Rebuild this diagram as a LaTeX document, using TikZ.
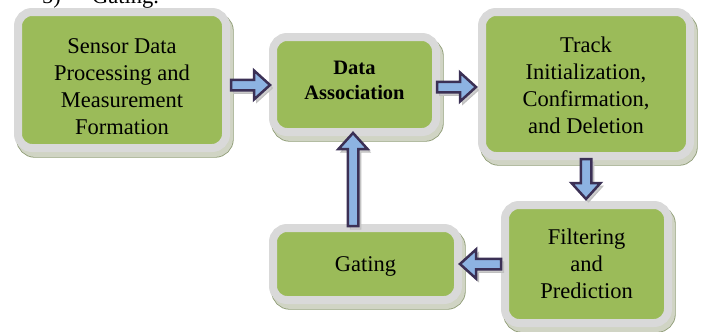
\documentclass[tikz,border=0pt]{standalone}
\usepackage{fontspec}
\setmainfont{Liberation Serif}
\usetikzlibrary{calc}

\definecolor{boxgreen}{HTML}{9BBB59}
\definecolor{boxrim}{HTML}{D9D9D9}
\definecolor{shadefill}{RGB}{208,212,196}
\definecolor{shadeedge}{RGB}{138,152,112}
\definecolor{arrowedge}{HTML}{3B3055}
\definecolor{arrowfill}{HTML}{8DB3E2}
\definecolor{arrowshade}{RGB}{205,205,205}

\tikzset{
  stage/.style={
    rectangle, rounded corners=14pt, inner sep=0pt,
    fill=boxgreen, draw=boxrim, line width=8pt,
    preaction={draw=shadeedge, line width=9.4pt,
      transform canvas={xshift=3pt,yshift=-5pt}},
    preaction={draw=shadefill, fill=shadefill, line width=7.8pt,
      transform canvas={xshift=3pt,yshift=-5pt}}
  },
  stagetext/.style={align=center, inner sep=0pt, font=\fontsize{22.5}{27}\selectfont},
  arrowbody/.style={draw=arrowedge, fill=arrowfill, line width=2.5pt, line join=miter},
  arrowshadow/.style={draw=gray!50, fill=arrowshade, line width=1pt, line join=miter}
}

% block arrow outline from #1 to tip #2, shifted by #3, drawn with style #4
\newcommand\arrowpath[4]{%
  \path[#4]
    ($(#1)!5.25pt!90:(#2)+(#3)$) -- ($(ba-b)!5.25pt!90:(#2)+(#3)$) --
    ($(ba-b)!14.5pt!90:(#2)+(#3)$) -- ($(#2)+(#3)$) --
    ($(ba-b)!14.5pt!-90:(#2)+(#3)$) -- ($(ba-b)!5.25pt!-90:(#2)+(#3)$) --
    ($(#1)!5.25pt!-90:(#2)+(#3)$) -- cycle;}
\newcommand\blockarrow[2]{%
  \coordinate (ba-b) at ($(#2)!16pt!(#1)$);
  \arrowpath{#1}{#2}{2.5pt,-3pt}{arrowshadow}
  \arrowpath{#1}{#2}{0pt,0pt}{arrowbody}}

\begin{document}
\begin{tikzpicture}[x=1pt,y=-1pt]
\useasboundingbox (0,0) rectangle (702,332);
\clip (0,0) rectangle (702,332);

% heading line above the chart
\node[anchor=base west, inner sep=0pt, font=\fontsize{22.5}{27}\selectfont] (hnum) at (42,3) {5)};
\node[anchor=base west, inner sep=0pt, font=\fontsize{22.5}{27}\selectfont] (htxt) at (92,3) {Gating.};

% processing stages
\node[stage, minimum width=208pt, minimum height=136pt] (sensor) at (122,80) {};
\node[stage, minimum width=163pt, minimum height=95pt] (assoc) at (354.5,84.5) {};
\node[stage, minimum width=208pt, minimum height=144pt] (track) at (586,84) {};
\node[stage, minimum width=185pt, minimum height=72pt] (gating) at (365.5,264) {};
\node[stage, minimum width=163pt, minimum height=118pt] (filt) at (586.5,264) {};

% stage labels
\node[stagetext] (sensor-t) at ($(sensor)+(0,7)$)
  {Sensor Data\\Processing and\\Measurement\\Formation};
\node[stagetext, font=\fontsize{20.5}{25}\selectfont\bfseries] (assoc-t) at ($(assoc)+(0,-4)$)
  {Data\\Association};
\node[stagetext] (track-t) at ($(track)+(0,1)$)
  {Track\\Initialization,\\Confirmation,\\and Deletion};
\node[stagetext] (gating-t) at ($(gating)+(0,2)$) {Gating};
\node[stagetext] (filt-t) at ($(filt)+(0,0)$) {Filtering\\and\\Prediction};

% arrow end points
\coordinate (a1s) at ($(sensor.east)+(1,5)$);
\coordinate (a1t) at ($(assoc.west)+(1,0.5)$);
\coordinate (a2s) at ($(assoc.east)+(-3,2.5)$);
\coordinate (a2t) at ($(track.west)+(-2,3)$);
\coordinate (a3s) at ($(track.south)+(0,-1)$);
\coordinate (a3t) at ($(filt.north)+(-0.5,-2)$);
\coordinate (a4s) at ($(gating.north)+(-12.5,2)$);
\coordinate (a4t) at ($(assoc.south)+(-1.5,-3)$);
\coordinate (a5s) at ($(filt.west)+(0,0)$);
\coordinate (a5t) at ($(gating.east)+(-2,0)$);

\blockarrow{a1s}{a1t}
\blockarrow{a2s}{a2t}
\blockarrow{a3s}{a3t}
\blockarrow{a4s}{a4t}
\blockarrow{a5s}{a5t}
\end{tikzpicture}
\end{document}
